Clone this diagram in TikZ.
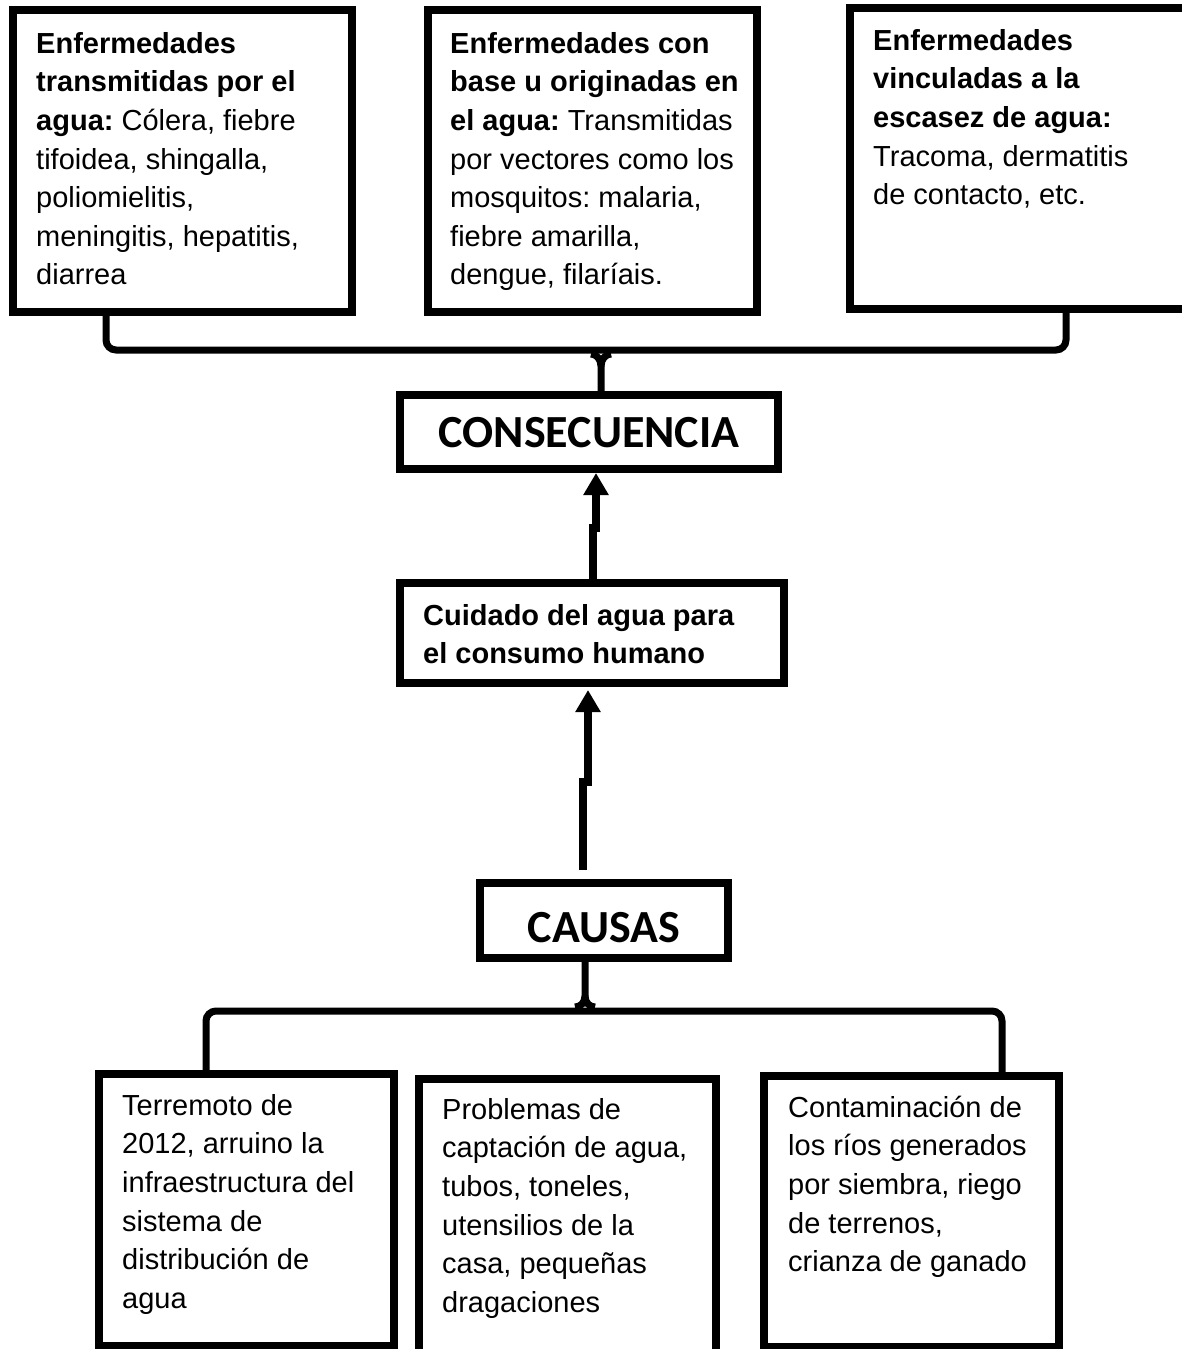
\documentclass[tikz,border=0pt]{standalone}
\usepackage{fontspec}
\setmainfont{Liberation Sans}
\newfontfamily\calfont{Carlito}
\usetikzlibrary{arrows.meta,calc}
\newcommand{\topstrut}{\rule{0pt}{24pt}}
\frenchspacing

\begin{document}
\begin{tikzpicture}[x=1pt, y=-1pt, >={Triangle[length=22pt,width=24pt]},
  box/.style={draw, line width=8pt, inner sep=0pt, outer sep=0pt},
  txt/.style={anchor=north west, align=left, inner sep=0pt, font=\fontsize{29}{38.6}\selectfont},
  title/.style={font=\calfont\bfseries\fontsize{46}{50}\selectfont, text depth=0pt},
  stem/.style={line width=8pt, ->},
  brace/.style={line width=7pt, rounded corners=10pt}]
% 1 unit = 1 px of the 1182 x 1349 page, y pointing down
\useasboundingbox (0,0) rectangle (1182,1349);
\fill[white] (0,0) rectangle (1182,1349);

% consequences
\node[box, anchor=north west, minimum width=339pt, minimum height=302pt] (enfAgua) at (13,10) {};
\node[box, anchor=north west, minimum width=329pt, minimum height=302pt] (enfBase) at (428,10) {};
\node[box, anchor=north west, minimum width=350pt, minimum height=301pt] (enfEscasez) at (850,8) {};
\node[txt] (txtAgua) at (36,29) {\topstrut\textbf{Enfermedades}\\ \textbf{transmitidas por el}\\ \textbf{agua:} Cólera, fiebre\\ tifoidea, shingalla,\\ poliomielitis,\\ meningitis, hepatitis,\\ diarrea};
\node[txt] (txtBase) at (450,29) {\topstrut\textbf{Enfermedades con}\\ \textbf{base u originadas en}\\ \textbf{el agua:} Transmitidas\\ por vectores como los\\ mosquitos: malaria,\\ fiebre amarilla,\\ dengue, filaríais.};
\node[txt] (txtEscasez) at (873,26) {\topstrut\textbf{Enfermedades}\\ \textbf{vinculadas a la}\\ \textbf{escasez de agua:}\\ Tracoma, dermatitis\\ de contacto, etc.};

\node[box, title, text height=30pt, minimum width=378pt, minimum height=74pt] (cons) at (589,432) {CONSECUENCIA};
\node[box, minimum width=384pt, minimum height=100pt] (cuidado) at (592,633) {};
\node[txt] (txtCuidado) at (423,601) {\topstrut\textbf{Cuidado del agua para}\\ \textbf{el consumo humano}};
\node[box, title, text height=43pt, minimum width=248pt, minimum height=75pt] (causas) at (604,920.5) {CAUSAS};

% causes
\node[box, anchor=north west, minimum width=295pt, minimum height=272pt] (causaSismo) at (99,1074) {};
\node[box, anchor=north west, minimum width=297pt, minimum height=321pt] (causaCaptacion) at (419,1079) {};
\node[box, anchor=north west, minimum width=295pt, minimum height=271pt] (causaRios) at (764,1076) {};
\node[txt] (txtSismo) at (122,1091) {\topstrut Terremoto de\\ 2012, arruino la\\ infraestructura del\\ sistema de\\ distribución de\\ agua};
\node[txt] (txtCaptacion) at (442,1095) {\topstrut Problemas de\\ captación de agua,\\ tubos, toneles,\\ utensilios de la\\ casa, pequeñas\\ dragaciones};
\node[txt] (txtRios) at (788,1093) {\topstrut Contaminación de\\ los ríos generados\\ por siembra, riego\\ de terrenos,\\ crianza de ganado};

% braces
\coordinate (topL) at (106,350);
\coordinate (topR) at (1066,350);
\coordinate (topC) at (601,350);
\draw[brace] (topL |- enfAgua.south) -- (topL) -- (topR) -- (topR |- enfEscasez.south);
\draw[line width=7pt] (topC |- cons.north) -- ++(0,-29) .. controls +(0,-7) and +(5,0) .. ++(-10,-12);
\draw[line width=7pt] ($(topC |- cons.north)+(0,-29)$) .. controls +(0,-7) and +(-5,0) .. ++(10,-12);

\coordinate (botL) at (206,1011);
\coordinate (botR) at (1002,1011);
\coordinate (botC) at (585,1011);
\draw[brace] (botL |- causaSismo.north) -- (botL) -- (botR) -- (botR |- causaRios.north);
\draw[line width=7pt] (botC |- causas.south) -- ++(0,38) .. controls +(0,7) and +(5,0) .. ++(-10,11);
\draw[line width=7pt] ($(botC |- causas.south)+(0,38)$) .. controls +(0,7) and +(-5,0) .. ++(10,11);

% arrows
\draw[stem] ($(cuidado.north)+(1,0)$) |- ($(cons.south)+(7,59)$) -- ($(cons.south)+(7,4)$);
\draw[stem] ($(causas.north)+(-21,-13)$) |- ($(cuidado.south)+(-4,99)$) -- ($(cuidado.south)+(-4,7)$);
\end{tikzpicture}
\end{document}
